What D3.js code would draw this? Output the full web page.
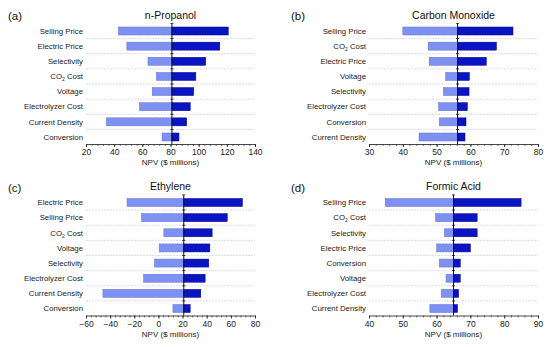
<!DOCTYPE html>
<html>
<head>
<meta charset="utf-8">
<script src="https://cdn.jsdelivr.net/npm/d3@7"></script>
<style>
  body { margin: 0; background: #fff; }
  svg { display: block; font-family: "Liberation Sans", Arial, sans-serif; }
</style>
</head>
<body>
<svg id="chart" width="550" height="347"></svg>
<script>
// n-Propanol
const propanolFactors = ['Selling Price', 'Electric Price', 'Selectivity', 'CO2 Cost', 'Voltage', 'Electrolyzer Cost', 'Current Density', 'Conversion'];
const propanolLow = [43, 49, 64, 70, 67, 58, 34.5, 74];
const propanolHigh = [121, 115, 105, 98, 96.5, 94, 91.5, 86];
const propanolBase = 81;

// Carbon Monoxide
const coFactors = ['Selling Price', 'CO2 Cost', 'Electric Price', 'Voltage', 'Selectivity', 'Electrolyzer Cost', 'Conversion', 'Current Density'];
const coLow = [40, 47.5, 47.8, 52.7, 52, 50.6, 50.8, 44.8];
const coHigh = [72.6, 67.7, 64.7, 59.7, 59.6, 59.1, 58.7, 58.4];
const coBase = 56.2;

// Ethylene
const ethyleneFactors = ['Electric Price', 'Selling Price', 'CO2 Cost', 'Voltage', 'Selectivity', 'Electrolyzer Cost', 'Current Density', 'Conversion'];
const ethyleneLow = [-26, -14, 4.5, 0.6, -3.2, -12.3, -46, 12];
const ethyleneHigh = [69.6, 57, 44.5, 42.6, 41.7, 38.7, 35.1, 26.3];
const ethyleneBase = 21;

// Formic Acid
const formicFactors = ['Selling Price', 'CO2 Cost', 'Selectivity', 'Electric Price', 'Conversion', 'Voltage', 'Electrolyzer Cost', 'Current Density'];
const formicLow = [44.8, 59.7, 62.3, 60, 60.8, 62.8, 61.4, 58];
const formicHigh = [85, 72, 72, 70, 67, 67, 66.5, 66.2];
const formicBase = 65;

const lightBlue = '#7f91f0';
const darkBlue = '#0a14c2';

const svg = d3.select('#chart');

function drawTornado(opts) {
    const g = svg.append('g');
    const x = d3.scaleLinear().domain(opts.domain).range([opts.left, opts.left + 169]);
    const y = d3.scalePoint().domain(opts.factors).range([opts.top, opts.top + 106]);
    const step = y.step();
    const axisY = opts.top + 113;
    const barH = 8;

    // panel letter and title
    g.append('text')
        .attr('x', opts.left - 78)
        .attr('y', opts.top - 11)
        .attr('font-size', 11.5)
        .attr('fill', '#111')
        .text(opts.letter);
    g.append('text')
        .attr('x', opts.left + 84.5)
        .attr('y', opts.top - 12.5)
        .attr('text-anchor', 'middle')
        .attr('font-size', 10.5)
        .attr('fill', '#111')
        .text(opts.title);

    // gridlines between rows
    const gridYs = opts.factors.slice(0, -1).map(f => y(f) + step / 2);
    g.selectAll('.grid')
        .data(gridYs)
        .enter()
        .append('line')
        .attr('x1', x.range()[0])
        .attr('x2', x.range()[1])
        .attr('y1', d => d)
        .attr('y2', d => d)
        .attr('stroke', '#d4d4d4')
        .attr('stroke-width', 0.8)
        .attr('stroke-dasharray', '2,1');

    const rows = opts.factors.map((f, i) => ({ f, lo: opts.low[i], hi: opts.high[i] }));

    // low bars
    g.selectAll('.low')
        .data(rows)
        .enter()
        .append('rect')
        .attr('x', d => x(d.lo))
        .attr('y', d => y(d.f) - barH / 2)
        .attr('width', d => x(opts.base) - x(d.lo))
        .attr('height', barH)
        .attr('fill', lightBlue)
        .attr('stroke', '#5f70d8')
        .attr('stroke-width', 0.5);
    // high bars
    g.selectAll('.high')
        .data(rows)
        .enter()
        .append('rect')
        .attr('x', x(opts.base))
        .attr('y', d => y(d.f) - barH / 2)
        .attr('width', d => x(d.hi) - x(opts.base))
        .attr('height', barH)
        .attr('fill', darkBlue)
        .attr('stroke', '#00008a')
        .attr('stroke-width', 0.5);

    // baseline with cross ticks
    g.append('line')
        .attr('x1', x(opts.base))
        .attr('x2', x(opts.base))
        .attr('y1', opts.top - step / 2)
        .attr('y2', axisY)
        .attr('stroke', '#111')
        .attr('stroke-width', 1);
    g.selectAll('.cross')
        .data([opts.top - step / 2].concat(gridYs))
        .enter()
        .append('line')
        .attr('x1', x(opts.base) - 1.5)
        .attr('x2', x(opts.base) + 1.5)
        .attr('y1', d => d)
        .attr('y2', d => d)
        .attr('stroke', '#111')
        .attr('stroke-width', 0.8);

    // category labels
    const labels = g.selectAll('.cat')
        .data(opts.factors)
        .enter()
        .append('text')
        .attr('x', opts.left - 3)
        .attr('y', d => y(d))
        .attr('dy', '0.35em')
        .attr('text-anchor', 'end')
        .attr('font-size', 7.8)
        .attr('fill', '#1a1a1a');
    labels.each(function (d) {
        const t = d3.select(this);
        if (d === 'CO2 Cost') {
            t.append('tspan').text('CO');
            t.append('tspan').attr('font-size', 5).attr('dy', 2).text('2');
            t.append('tspan').attr('dy', -2).text(' Cost');
        } else {
            t.text(d);
        }
    });

    // bottom axis: minor ticks then major ticks
    const minorStep = (opts.ticks[1] - opts.ticks[0]) / 5;
    const minor = d3.range(opts.domain[0], opts.domain[1] + minorStep / 2, minorStep);
    g.append('g')
        .attr('transform', `translate(0,${axisY})`)
        .call(d3.axisBottom(x).tickValues(minor).tickSize(2).tickFormat(''))
        .call(a => a.select('.domain').remove())
        .selectAll('line').attr('stroke', '#333').attr('stroke-width', 0.7);
    const ax = g.append('g')
        .attr('transform', `translate(0,${axisY})`)
        .call(d3.axisBottom(x).tickValues(opts.ticks).tickSize(3).tickSizeOuter(0).tickPadding(2).tickFormat(d3.format('')));
    ax.select('.domain').attr('stroke', '#333').attr('stroke-width', 0.9);
    ax.selectAll('line').attr('stroke', '#333');
    ax.selectAll('text').attr('font-size', 8.5).attr('fill', '#1a1a1a').attr('font-family', '"Liberation Sans", Arial, sans-serif');

    g.append('text')
        .attr('x', opts.left + 84.5)
        .attr('y', axisY + 21)
        .attr('text-anchor', 'middle')
        .attr('font-size', 8)
        .attr('fill', '#1a1a1a')
        .text('NPV ($ millions)');
}

drawTornado({
    letter: '(a)', title: 'n-Propanol', left: 86, top: 31,
    domain: [20, 140], ticks: [20, 40, 60, 80, 100, 120, 140],
    factors: propanolFactors, low: propanolLow, high: propanolHigh, base: propanolBase
});
drawTornado({
    letter: '(b)', title: 'Carbon Monoxide', left: 369, top: 31,
    domain: [30, 80], ticks: [30, 40, 50, 60, 70, 80],
    factors: coFactors, low: coLow, high: coHigh, base: coBase
});
drawTornado({
    letter: '(c)', title: 'Ethylene', left: 86, top: 202.5,
    domain: [-60, 80], ticks: [-60, -40, -20, 0, 20, 40, 60, 80],
    factors: ethyleneFactors, low: ethyleneLow, high: ethyleneHigh, base: ethyleneBase
});
drawTornado({
    letter: '(d)', title: 'Formic Acid', left: 369, top: 202.5,
    domain: [40, 90], ticks: [40, 50, 60, 70, 80, 90],
    factors: formicFactors, low: formicLow, high: formicHigh, base: formicBase
});
</script>
</body>
</html>
